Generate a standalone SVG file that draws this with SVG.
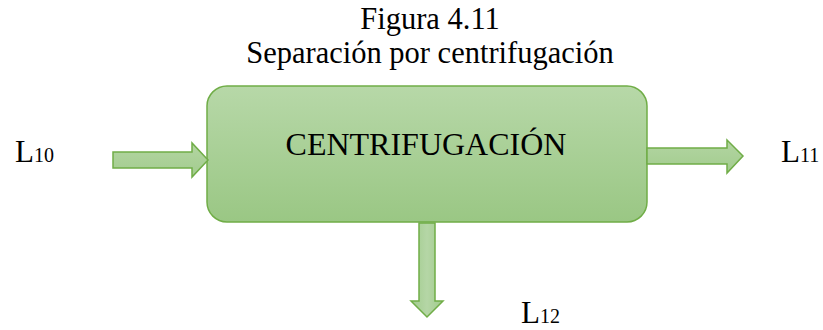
<svg xmlns="http://www.w3.org/2000/svg" width="823" height="330" viewBox="0 0 823 330">
<defs>
<linearGradient id="g" x1="0" y1="0" x2="0" y2="1">
<stop offset="0" stop-color="#b7d8a8"/>
<stop offset="1" stop-color="#9ac784"/>
</linearGradient>
<linearGradient id="ga" x1="0" y1="0" x2="0" y2="1">
<stop offset="0" stop-color="#b3d5a2"/>
<stop offset="1" stop-color="#a2cc8e"/>
</linearGradient>
<linearGradient id="gd" x1="0" y1="0" x2="1" y2="0">
<stop offset="0" stop-color="#a0cb8c"/>
<stop offset="0.5" stop-color="#b5d6a6"/>
<stop offset="1" stop-color="#a0cb8c"/>
</linearGradient>
</defs>
<style>
text{font-family:"Liberation Serif","Times New Roman",serif;fill:#000}
.arrow{stroke:#70ad47;stroke-width:1.5;stroke-linejoin:miter}
.box{stroke:#70ad47;stroke-width:1.5}
.lbl{font-size:31px}
.sub{font-size:20px}
.title{font-size:30.5px}
</style>
<g id="title">
<text x="430" y="29" class="title" text-anchor="middle">Figura 4.11</text>
<text x="430" y="63" class="title" text-anchor="middle">Separación por centrifugación</text>
</g>
<g id="centrifugacion">
<rect class="box" x="207" y="86" width="440" height="136" rx="20" ry="20" fill="url(#g)"/>
<text x="426" y="155" font-size="32" text-anchor="middle">CENTRIFUGACIÓN</text>
</g>
<g id="connectors">
<path class="arrow" fill="url(#ga)" d="M113,152 L192,152 L192,143 L208,160 L192,177 L192,168 L113,168 Z"/>
<path class="arrow" fill="url(#ga)" d="M647,148 L727,148 L727,140 L743,156 L727,173 L727,164 L647,164 Z"/>
<path class="arrow" fill="url(#gd)" d="M419,223 L435,223 L435,301 L443,301 L427,317 L411,301 L419,301 Z"/>
</g>
<g id="L10">
<text x="15" y="162" class="lbl">L<tspan class="sub">10</tspan></text>
</g>
<g id="L11">
<text x="781" y="162" class="lbl">L<tspan class="sub">11</tspan></text>
</g>
<g id="L12">
<text x="521" y="323" class="lbl">L<tspan class="sub">12</tspan></text>
</g>
</svg>
